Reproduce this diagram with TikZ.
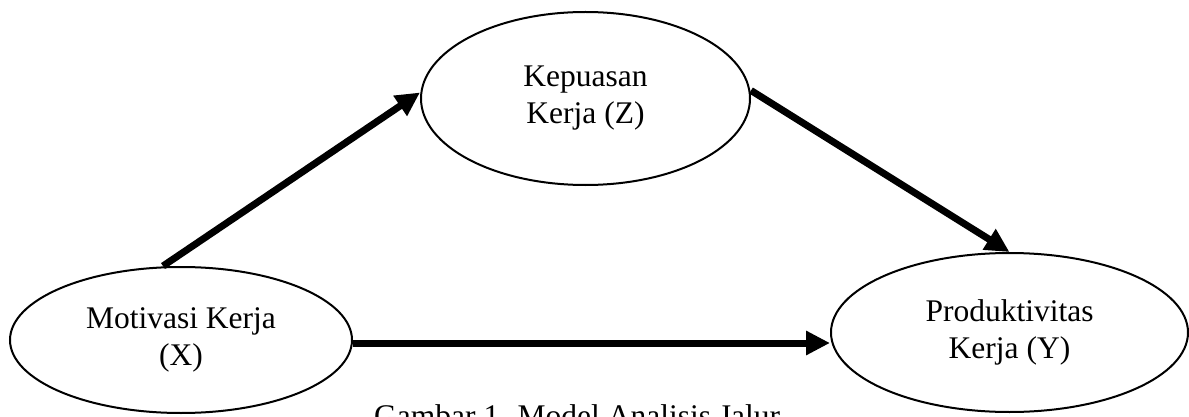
\documentclass[tikz,border=0pt]{standalone}
\usepackage{fontspec}
\setmainfont{Liberation Serif}
\usetikzlibrary{shapes.geometric,arrows.meta}
\begin{document}
\begin{tikzpicture}[x=1pt,y=-1pt,
  varbox/.style={ellipse,draw,line width=2pt,inner sep=0pt,align=center,
    font=\fontsize{31.5}{37}\selectfont},
  path/.style={line width=7pt,-{Triangle[length=24pt,width=23pt]}}]
  \clip (0,0) rectangle (1189,417);
  % latent variables
  \node[varbox,minimum width=329pt,minimum height=173pt] (Z) at (585.5,98.5) {Kepuasan\\Kerja (Z)};
  \node[varbox,minimum width=342pt,minimum height=146pt] (X) at (181,340) {Motivasi Kerja\\(X)};
  \node[varbox,minimum width=357pt,minimum height=159pt] (Y) at (1009.5,332.5) {Produktivitas\\Kerja (Y)};
  % path arrows
  \draw[path] ([xshift=-18pt]X.north) -- ([yshift=6pt]Z.west);
  \draw[path] ([yshift=8pt]Z.east) -- (Y.north);
  \draw[path] ([yshift=-3pt]X.east) -- ([yshift=-3pt]X.east -| Y.west);
  % caption
  \node[anchor=base west,inner sep=0pt,font=\fontsize{31.5}{37}\selectfont] (cap) at (374,426) {Gambar 1. Model Analisis Jalur};
\end{tikzpicture}
\end{document}
